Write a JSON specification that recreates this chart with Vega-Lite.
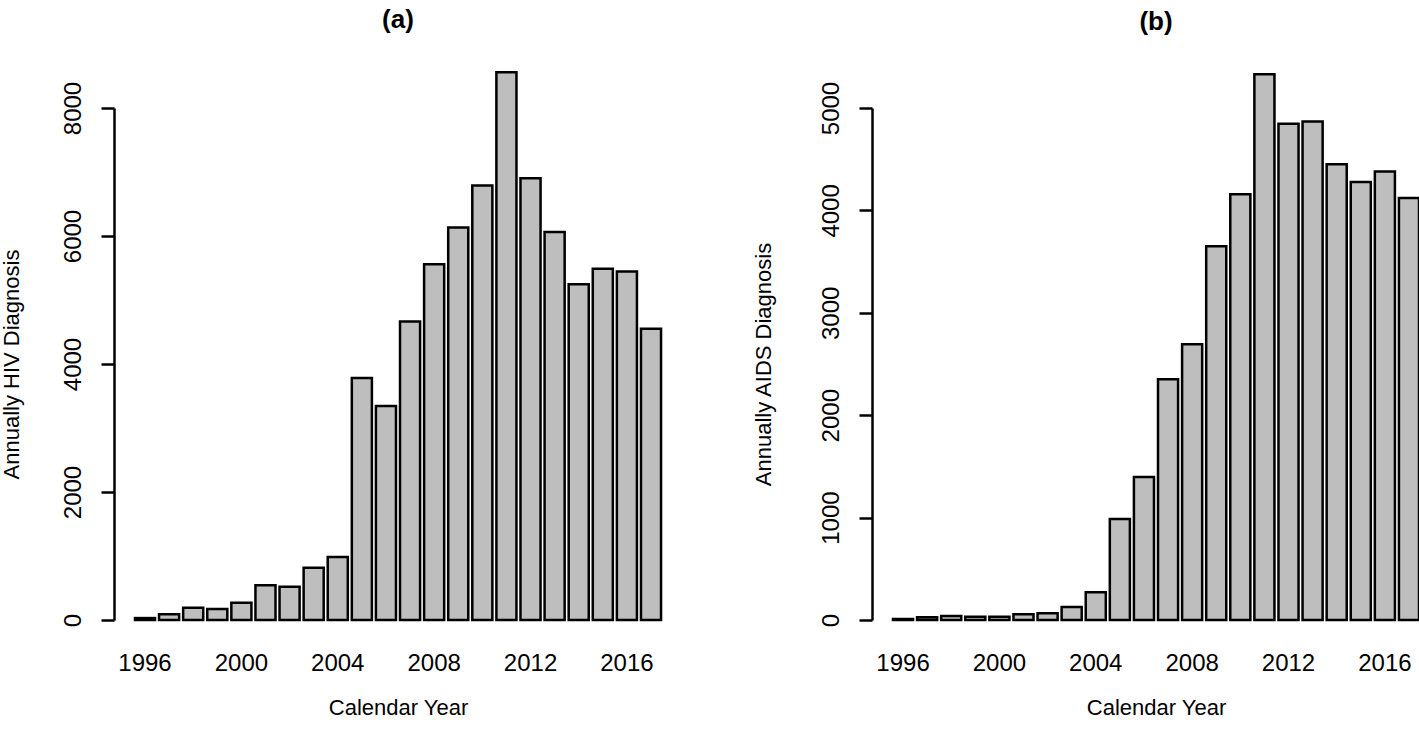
{
  "$schema": "https://vega.github.io/schema/vega-lite/v6.json",
  "background": "white",
  "padding": {"left": 0, "top": 6, "right": 0, "bottom": 0},
  "config": {
    "font": "Liberation Sans",
    "view": {"stroke": null},
    "axis": {
      "labelFont": "Liberation Sans",
      "titleFont": "Liberation Sans",
      "labelColor": "black",
      "titleColor": "black",
      "labelFontSize": 24,
      "titleFontSize": 22,
      "titleFontWeight": "normal",
      "grid": false
    },
    "title": {"font": "Liberation Sans", "color": "black"}
  },
  "datasets": {
    "d": [
      {"year": 1996, "hiv": 30, "aids": 10},
      {"year": 1997, "hiv": 89, "aids": 26},
      {"year": 1998, "hiv": 193, "aids": 39},
      {"year": 1999, "hiv": 172, "aids": 32},
      {"year": 2000, "hiv": 271, "aids": 32},
      {"year": 2001, "hiv": 542, "aids": 55},
      {"year": 2002, "hiv": 521, "aids": 65},
      {"year": 2003, "hiv": 818, "aids": 127},
      {"year": 2004, "hiv": 984, "aids": 270},
      {"year": 2005, "hiv": 3780, "aids": 987},
      {"year": 2006, "hiv": 3344, "aids": 1397},
      {"year": 2007, "hiv": 4663, "aids": 2351},
      {"year": 2008, "hiv": 5559, "aids": 2693},
      {"year": 2009, "hiv": 6132, "aids": 3651},
      {"year": 2010, "hiv": 6789, "aids": 4157},
      {"year": 2011, "hiv": 8560, "aids": 5330},
      {"year": 2012, "hiv": 6902, "aids": 4846},
      {"year": 2013, "hiv": 6061, "aids": 4869},
      {"year": 2014, "hiv": 5248, "aids": 4451},
      {"year": 2015, "hiv": 5487, "aids": 4277},
      {"year": 2016, "hiv": 5445, "aids": 4381},
      {"year": 2017, "hiv": 4550, "aids": 4120}
    ]
  },
  "bounds": "flush",
  "spacing": 190,
  "hconcat": [
    {
      "data": {"name": "d"},
      "width": 568,
      "height": 512,
      "title": {"text": "(a)", "fontSize": 26, "fontWeight": "bold", "frame": "group", "anchor": "middle", "offset": 38},
      "mark": {"type": "bar", "fill": "#bebebe", "stroke": "black", "strokeWidth": 2.5},
      "encoding": {
        "x": {
          "field": "year", "type": "ordinal",
          "scale": {"paddingInner": 0.1667, "paddingOuter": 0.87},
          "axis": {"values": [1996, 2000, 2004, 2008, 2012, 2016], "title": "Calendar Year", "domain": false, "ticks": false, "tickSize": 0, "labelAngle": 0, "labelPadding": 31, "titlePadding": 22}
        },
        "y": {
          "field": "hiv", "type": "quantitative",
          "scale": {"domain": [0, 8000], "nice": false},
          "axis": {"values": [0, 2000, 4000, 6000, 8000], "format": "d", "title": "Annually HIV Diagnosis", "labelAngle": -90, "labelAlign": "center", "labelBaseline": "bottom", "domainColor": "black", "domainWidth": 2.5, "tickColor": "black", "tickWidth": 2.5, "tickSize": 13, "labelPadding": 16, "titlePadding": 38}
        }
      }
    },
    {
      "data": {"name": "d"},
      "width": 548,
      "height": 512,
      "title": {"text": "(b)", "fontSize": 26, "fontWeight": "bold", "frame": "group", "anchor": "middle", "offset": 38, "dx": 10},
      "mark": {"type": "bar", "fill": "#bebebe", "stroke": "black", "strokeWidth": 2.5},
      "encoding": {
        "x": {
          "field": "year", "type": "ordinal",
          "scale": {"paddingInner": 0.1667, "paddingOuter": 0.456, "align": 0.955},
          "axis": {"values": [1996, 2000, 2004, 2008, 2012, 2016], "title": "Calendar Year", "domain": false, "ticks": false, "tickSize": 0, "labelAngle": 0, "labelPadding": 31, "titlePadding": 22, "titleX": 284}
        },
        "y": {
          "field": "aids", "type": "quantitative",
          "scale": {"domain": [0, 5000], "nice": false},
          "axis": {"values": [0, 1000, 2000, 3000, 4000, 5000], "format": "d", "title": "Annually AIDS Diagnosis", "labelAngle": -90, "labelAlign": "center", "labelBaseline": "bottom", "domainColor": "black", "domainWidth": 2.5, "tickColor": "black", "tickWidth": 2.5, "tickSize": 13, "labelPadding": 16, "titlePadding": 44}
        }
      }
    }
  ]
}
